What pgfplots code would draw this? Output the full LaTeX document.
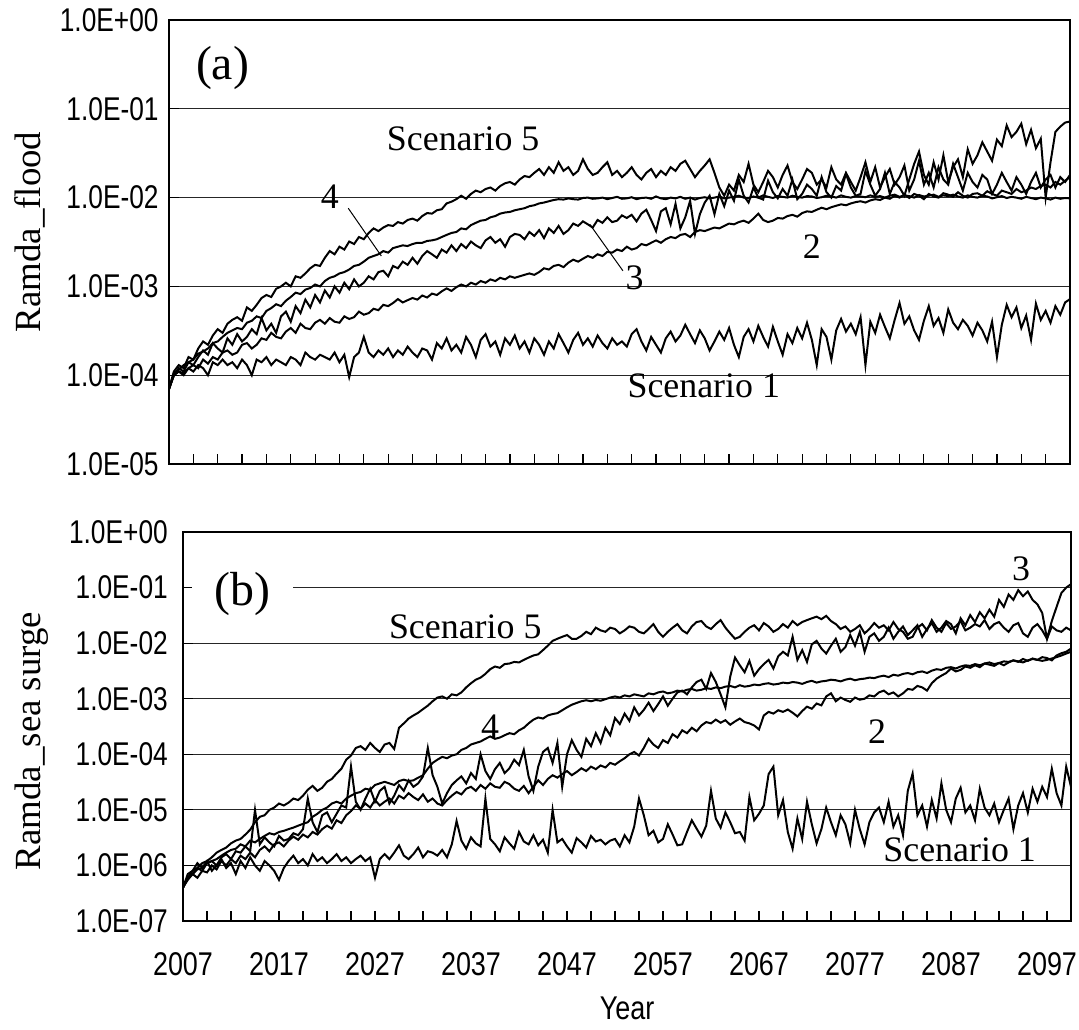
\documentclass[border=0pt]{standalone}
\usepackage{fontspec}
\setmainfont{Liberation Serif}
\setsansfont{Liberation Sans}
\usepackage{pgfplots}
\usepackage{pgfplotstable}
\pgfplotsset{compat=1.18}

\pgfplotstableread{
t s1 s2 s3 s4 s5
2007.0 0.7e-4 7.0e-5 7.0e-5 7.0e-5 7.0e-5
2007.5 1.0e-4 1.0e-4 1.0e-4 1.05e-4 1.1e-4
2008.0 1.1e-4 1.1e-4 1.2e-4 1.15e-4 1.3e-4
2008.5 1.0e-4 1.05e-4 1.1e-4 1.3e-4 1.2e-4
2009.0 1.2e-4 1.2e-4 1.4e-4 1.4e-4 1.6e-4
2009.5 1.1e-4 1.3e-4 1.3e-4 1.5e-4 1.5e-4
2010.0 1.3e-4 1.2e-4 1.6e-4 1.75e-4 2.0e-4
2010.5 1.2e-4 1.5e-4 1.9e-4 1.85e-4 2.4e-4
2011.0 1.0e-4 1.35e-4 1.7e-4 2.0e-4 2.2e-4
2011.5 1.4e-4 1.6e-4 2.3e-4 2.3e-4 2.8e-4
2012.0 1.3e-4 1.5e-4 2.0e-4 2.4e-4 3.3e-4
2012.5 1.5e-4 1.8e-4 1.8e-4 2.7e-4 3.0e-4
2013.0 1.3e-4 1.9e-4 2.6e-4 3.0e-4 3.8e-4
2013.5 1.4e-4 1.7e-4 2.2e-4 3.2e-4 4.2e-4
2014.0 1.2e-4 1.8e-4 2.9e-4 3.4e-4 4.5e-4
2014.5 1.5e-4 2.2e-4 2.4e-4 3.3e-4 4.1e-4
2015.0 1.3e-4 2.3e-4 2.7e-4 3.9e-4 5.8e-4
2015.5 1.0e-4 2.0e-4 3.3e-4 4.1e-4 5.3e-4
2016.0 1.5e-4 2.2e-4 2.9e-4 4.6e-4 6.2e-4
2016.5 1.4e-4 2.6e-4 4.4e-4 4.4e-4 7.4e-4
2017.0 1.6e-4 2.5e-4 3.2e-4 5.3e-4 8.0e-4
2017.5 1.3e-4 3.0e-4 3.8e-4 5.7e-4 7.6e-4
2018.0 1.5e-4 2.7e-4 3.0e-4 6.3e-4 9.4e-4
2018.5 1.4e-4 2.6e-4 4.6e-4 6.0e-4 1.0e-3
2019.0 1.3e-4 3.1e-4 5.2e-4 6.9e-4 1.1e-3
2019.5 1.6e-4 3.4e-4 4.0e-4 7.6e-4 1.0e-3
2020.0 1.5e-4 3.0e-4 6.0e-4 8.5e-4 1.3e-3
2020.5 1.3e-4 3.8e-4 5.0e-4 8.2e-4 1.25e-3
2021.0 1.8e-4 3.4e-4 7.1e-4 9.2e-4 1.4e-3
2021.5 1.6e-4 3.3e-4 5.8e-4 9.6e-4 1.6e-3
2022.0 1.5e-4 3.9e-4 8.0e-4 1.05e-3 1.75e-3
2022.5 1.7e-4 4.2e-4 6.6e-4 1.0e-3 1.7e-3
2023.0 1.6e-4 3.8e-4 9.0e-4 1.15e-3 2.1e-3
2023.5 1.5e-4 4.4e-4 7.5e-4 1.25e-3 2.5e-3
2024.0 1.8e-4 4.0e-4 1.0e-3 1.3e-3 2.3e-3
2024.5 1.4e-4 3.9e-4 8.5e-4 1.4e-3 2.8e-3
2025.0 1.7e-4 4.6e-4 1.1e-3 1.45e-3 2.6e-3
2025.5 0.95e-4 4.3e-4 9.3e-4 1.55e-3 3.2e-3
2026.0 1.6e-4 4.5e-4 1.2e-3 1.7e-3 3.0e-3
2026.5 1.8e-4 5.2e-4 1.0e-3 1.75e-3 3.6e-3
2027.0 2.7e-4 4.8e-4 1.1e-3 1.9e-3 3.4e-3
2027.5 1.8e-4 5.0e-4 1.3e-3 2.1e-3 4.0e-3
2028.0 1.6e-4 5.6e-4 1.2e-3 2.2e-3 4.5e-3
2028.5 1.9e-4 5.4e-4 1.45e-3 2.3e-3 4.2e-3
2029.0 1.7e-4 6.2e-4 1.5e-3 2.5e-3 4.6e-3
2029.5 2.0e-4 6.0e-4 1.3e-3 2.4e-3 4.9e-3
2030.0 1.6e-4 6.5e-4 1.7e-3 2.7e-3 4.8e-3
2030.5 1.9e-4 7.2e-4 1.6e-3 2.8e-3 5.3e-3
2031.0 1.7e-4 6.6e-4 1.9e-3 2.9e-3 5.1e-3
2031.5 2.1e-4 7.0e-4 1.75e-3 2.85e-3 5.6e-3
2032.0 1.8e-4 7.4e-4 2.1e-3 3.0e-3 5.8e-3
2032.5 1.6e-4 7.1e-4 1.8e-3 3.1e-3 5.5e-3
2033.0 2.0e-4 7.9e-4 2.2e-3 3.1e-3 6.2e-3
2033.5 1.9e-4 7.5e-4 2.5e-3 3.25e-3 6.7e-3
2034.0 1.5e-4 8.3e-4 2.3e-3 3.3e-3 6.6e-3
2034.5 2.3e-4 8.0e-4 2.1e-3 3.4e-3 7.2e-3
2035.0 2.0e-4 8.8e-4 2.6e-3 3.6e-3 7.4e-3
2035.5 2.6e-4 9.5e-4 2.4e-3 3.8e-3 8.6e-3
2036.0 1.9e-4 8.9e-4 2.9e-3 4.0e-3 9.0e-3
2036.5 2.2e-4 9.8e-4 2.5e-3 4.1e-3 9.6e-3
2037.0 1.8e-4 1.05e-3 3.0e-3 4.5e-3 1.05e-2
2037.5 2.7e-4 1.0e-3 2.7e-3 4.4e-3 9.7e-3
2038.0 2.2e-4 1.1e-3 3.2e-3 4.9e-3 1.1e-2
2038.5 1.6e-4 1.05e-3 2.9e-3 5.2e-3 1.2e-2
2039.0 2.5e-4 1.15e-3 2.7e-3 5.5e-3 1.15e-2
2039.5 2.9e-4 1.1e-3 3.3e-3 5.6e-3 1.25e-2
2040.0 2.1e-4 1.2e-3 3.6e-3 6.0e-3 1.3e-2
2040.5 2.4e-4 1.15e-3 3.1e-3 6.2e-3 1.2e-2
2041.0 1.7e-4 1.25e-3 3.4e-3 6.6e-3 1.35e-2
2041.5 2.6e-4 1.2e-3 2.8e-3 6.8e-3 1.45e-2
2042.0 2.2e-4 1.3e-3 3.6e-3 6.9e-3 1.5e-2
2042.5 2.8e-4 1.25e-3 3.9e-3 7.2e-3 1.4e-2
2043.0 2.0e-4 1.3e-3 3.8e-3 7.4e-3 1.6e-2
2043.5 2.4e-4 1.35e-3 3.4e-3 7.6e-3 1.75e-2
2044.0 1.8e-4 1.4e-3 4.1e-3 8.0e-3 1.7e-2
2044.5 2.6e-4 1.35e-3 3.7e-3 8.2e-3 1.9e-2
2045.0 2.2e-4 1.45e-3 4.3e-3 8.6e-3 2.1e-2
2045.5 1.7e-4 1.6e-3 3.5e-3 8.8e-3 1.8e-2
2046.0 2.4e-4 1.55e-3 4.5e-3 9.1e-3 2.2e-2
2046.5 2.0e-4 1.7e-3 4.0e-3 9.4e-3 1.9e-2
2047.0 2.9e-4 1.75e-3 4.8e-3 9.6e-3 2.5e-2
2047.5 2.3e-4 1.65e-3 3.9e-3 9.5e-3 2.0e-2
2048.0 1.8e-4 1.85e-3 4.3e-3 9.8e-3 2.2e-2
2048.5 2.5e-4 2.0e-3 5.1e-3 9.6e-3 1.8e-2
2049.0 3.0e-4 1.9e-3 4.8e-3 9.5e-3 2.0e-2
2049.5 2.2e-4 2.05e-3 5.4e-3 9.9e-3 2.7e-2
2050.0 2.6e-4 2.2e-3 5.0e-3 1.0e-2 2.1e-2
2050.5 2.1e-4 2.1e-3 4.6e-3 9.7e-3 1.8e-2
2051.0 2.8e-4 2.3e-3 5.6e-3 9.8e-3 1.9e-2
2051.5 2.3e-4 2.2e-3 5.2e-3 1.0e-2 2.2e-2
2052.0 2.0e-4 2.45e-3 6.0e-3 9.6e-3 2.5e-2
2052.5 2.6e-4 2.4e-3 5.3e-3 9.9e-3 1.8e-2
2053.0 2.2e-4 2.6e-3 5.5e-3 1.02e-2 2.0e-2
2053.5 2.4e-4 2.5e-3 6.3e-3 9.7e-3 1.7e-2
2054.0 2.1e-4 2.8e-3 5.9e-3 9.8e-3 1.9e-2
2054.5 2.9e-4 2.6e-3 6.4e-3 1.01e-2 2.2e-2
2055.0 3.3e-4 2.7e-3 5.4e-3 9.6e-3 1.8e-2
2055.5 2.4e-4 3.0e-3 6.6e-3 9.9e-3 1.6e-2
2056.0 1.9e-4 2.9e-3 7.3e-3 1.0e-2 1.9e-2
2056.5 2.7e-4 3.1e-3 5.6e-3 9.7e-3 2.1e-2
2057.0 2.2e-4 3.3e-3 4.2e-3 1.03e-2 1.7e-2
2057.5 1.8e-4 3.1e-3 7.0e-3 9.8e-3 2.0e-2
2058.0 2.6e-4 3.4e-3 7.6e-3 9.6e-3 1.8e-2
2058.5 3.1e-4 3.6e-3 5.0e-3 1.0e-2 2.2e-2
2059.0 2.4e-4 3.5e-3 8.5e-3 9.8e-3 2.0e-2
2059.5 2.8e-4 3.8e-3 4.5e-3 1.02e-2 2.4e-2
2060.0 3.7e-4 3.9e-3 6.0e-3 9.7e-3 2.6e-2
2060.5 2.9e-4 3.6e-3 9.2e-3 1.0e-2 2.1e-2
2061.0 2.3e-4 4.1e-3 3.9e-3 9.5e-3 1.7e-2
2061.5 3.2e-4 4.3e-3 6.5e-3 9.9e-3 2.0e-2
2062.0 2.6e-4 4.2e-3 8.8e-3 1.01e-2 2.3e-2
2062.5 1.9e-4 4.4e-3 1.05e-2 9.8e-3 2.7e-2
2063.0 2.4e-4 4.6e-3 6.5e-3 1.0e-2 1.9e-2
2063.5 3.1e-4 4.5e-3 1.1e-2 1.03e-2 1.3e-2
2064.0 2.5e-4 4.8e-3 8.0e-3 9.8e-3 1.05e-2
2064.5 3.4e-4 5.1e-3 1.2e-2 1.0e-2 1.4e-2
2065.0 2.2e-4 5.0e-3 9.2e-3 1.02e-2 1.2e-2
2065.5 1.6e-4 5.3e-3 1.6e-2 1.05e-2 1.8e-2
2066.0 2.7e-4 5.5e-3 1.05e-2 1.0e-2 1.5e-2
2066.5 3.3e-4 5.2e-3 8.8e-3 9.9e-3 2.4e-2
2067.0 2.4e-4 5.8e-3 1.3e-2 1.03e-2 1.4e-2
2067.5 3.6e-4 6.6e-3 1.0e-2 1.0e-2 1.15e-2
2068.0 2.7e-4 5.6e-3 9.5e-3 1.06e-2 1.5e-2
2068.5 2.1e-4 5.3e-3 1.55e-2 1.02e-2 2.0e-2
2069.0 3.5e-4 5.5e-3 1.15e-2 9.9e-3 1.7e-2
2069.5 2.4e-4 5.9e-3 9.8e-3 1.04e-2 1.3e-2
2070.0 1.7e-4 5.8e-3 1.25e-2 1.02e-2 1.8e-2
2070.5 2.9e-4 6.2e-3 1.05e-2 1.0e-2 2.3e-2
2071.0 2.3e-4 6.4e-3 1.6e-2 1.05e-2 1.5e-2
2071.5 3.4e-4 6.1e-3 9.6e-3 1.02e-2 1.25e-2
2072.0 2.6e-4 6.7e-3 1.1e-2 1.0e-2 1.6e-2
2072.5 3.9e-4 7.0e-3 1.4e-2 1.04e-2 2.1e-2
2073.0 2.5e-4 6.9e-3 1.25e-2 1.03e-2 1.9e-2
2073.5 1.3e-4 7.3e-3 1.05e-2 9.9e-3 1.4e-2
2074.0 3.3e-4 7.7e-3 1.7e-2 1.01e-2 1.6e-2
2074.5 2.7e-4 7.4e-3 1.15e-2 1.05e-2 1.3e-2
2075.0 1.5e-4 7.8e-3 1.0e-2 1.03e-2 2.2e-2
2075.5 3.2e-4 8.1e-3 1.35e-2 1.0e-2 1.6e-2
2076.0 4.3e-4 8.4e-3 1.2e-2 1.06e-2 1.4e-2
2076.5 3.1e-4 8.2e-3 1.85e-2 1.02e-2 1.9e-2
2077.0 3.8e-4 8.6e-3 1.3e-2 1.0e-2 1.5e-2
2077.5 2.9e-4 8.9e-3 1.05e-2 1.04e-2 1.2e-2
2078.0 4.5e-4 9.1e-3 1.1e-2 1.03e-2 1.7e-2
2078.5 1.3e-4 8.8e-3 2.0e-2 1.01e-2 2.5e-2
2079.0 4.0e-4 9.3e-3 1.4e-2 1.06e-2 1.5e-2
2079.5 3.0e-4 9.6e-3 1.05e-2 1.02e-2 2.2e-2
2080.0 4.8e-4 9.4e-3 1.25e-2 1.04e-2 1.3e-2
2080.5 3.5e-4 1.0e-2 1.9e-2 1.0e-2 1.7e-2
2081.0 2.6e-4 9.7e-3 1.1e-2 1.05e-2 2.1e-2
2081.5 4.2e-4 1.05e-2 1.5e-2 1.08e-2 1.4e-2
2082.0 6.5e-4 1.0e-2 1.3e-2 1.02e-2 1.7e-2
2082.5 3.8e-4 1.08e-2 1.05e-2 1.06e-2 2.3e-2
2083.0 4.6e-4 9.9e-3 1.6e-2 1.04e-2 1.2e-2
2083.5 3.2e-4 1.1e-2 2.4e-2 1.0e-2 1.6e-2
2084.0 2.5e-4 1.05e-2 3.3e-2 1.07e-2 2.6e-2
2084.5 4.1e-4 9.6e-3 1.8e-2 1.03e-2 1.4e-2
2085.0 6.0e-4 1.1e-2 1.4e-2 1.05e-2 1.9e-2
2085.5 3.6e-4 1.03e-2 2.5e-2 1.08e-2 1.3e-2
2086.0 4.4e-4 1.0e-2 1.6e-2 1.02e-2 2.2e-2
2086.5 3.0e-4 1.12e-2 3.0e-2 1.06e-2 1.6e-2
2087.0 5.5e-4 1.08e-2 1.5e-2 1.04e-2 1.4e-2
2087.5 3.9e-4 1.02e-2 2.2e-2 1.08e-2 2.4e-2
2088.0 3.3e-4 1.15e-2 2.7e-2 1.03e-2 1.7e-2
2088.5 4.2e-4 1.05e-2 1.7e-2 1.0e-2 1.2e-2
2089.0 3.6e-4 1.0e-2 3.5e-2 1.06e-2 1.9e-2
2089.5 2.8e-4 1.1e-2 2.4e-2 1.02e-2 1.5e-2
2090.0 3.9e-4 1.12e-2 3.0e-2 1.0e-2 1.3e-2
2090.5 3.2e-4 1.05e-2 4.2e-2 1.05e-2 1.8e-2
2091.0 2.4e-4 1.18e-2 3.3e-2 1.03e-2 1.6e-2
2091.5 4.0e-4 1.1e-2 2.6e-2 9.8e-3 1.1e-2
2092.0 1.6e-4 1.05e-2 4.5e-2 1.01e-2 1.4e-2
2092.5 3.7e-4 1.2e-2 3.8e-2 1.04e-2 1.9e-2
2093.0 6.2e-4 1.15e-2 6.5e-2 9.9e-3 1.5e-2
2093.5 4.5e-4 1.1e-2 4.8e-2 1.02e-2 1.2e-2
2094.0 5.8e-4 1.25e-2 5.5e-2 1.0e-2 1.7e-2
2094.5 3.4e-4 1.15e-2 6.8e-2 9.7e-3 1.4e-2
2095.0 4.7e-4 1.2e-2 4.0e-2 1.02e-2 1.1e-2
2095.5 2.5e-4 1.3e-2 5.8e-2 9.9e-3 1.5e-2
2096.0 6.4e-4 1.25e-2 3.6e-2 9.6e-3 1.9e-2
2096.5 4.2e-4 1.35e-2 4.6e-2 1.0e-2 1.3e-2
2097.0 5.3e-4 1.4e-2 1.0e-2 9.8e-3 1.6e-2
2097.5 3.9e-4 1.3e-2 2.5e-2 9.5e-3 1.8e-2
2098.0 6.0e-4 1.5e-2 5.5e-2 1.0e-2 1.3e-2
2098.5 4.8e-4 1.4e-2 6.3e-2 9.7e-3 1.7e-2
2099.0 6.6e-4 1.55e-2 7.0e-2 9.9e-3 1.5e-2
2099.5 7.2e-4 1.7e-2 7.2e-2 9.8e-3 1.8e-2
}\flood

\pgfplotstableread{
t s1 s2 s3 s4 s5
2007.0 4.0e-7 4.0e-7 4.0e-7 4.0e-7 4.0e-7
2007.5 6.0e-7 5.5e-7 6.0e-7 6.0e-7 7.0e-7
2008.0 8.0e-7 7.0e-7 7.0e-7 7.0e-7 8.0e-7
2008.5 1.1e-6 6.0e-7 9.0e-7 8.5e-7 9.0e-7
2009.0 9.0e-7 8.0e-7 8.0e-7 9.0e-7 1.1e-6
2009.5 1.2e-6 7.5e-7 1.1e-6 1.1e-6 1.2e-6
2010.0 8.0e-7 1.0e-6 1.2e-6 1.2e-6 1.4e-6
2010.5 1.0e-6 8.5e-7 1.0e-6 1.3e-6 1.7e-6
2011.0 1.3e-6 1.2e-6 1.4e-6 1.5e-6 1.9e-6
2011.5 9.0e-7 1.0e-6 1.6e-6 1.7e-6 2.1e-6
2012.0 1.1e-6 1.3e-6 1.3e-6 1.9e-6 2.5e-6
2012.5 7.0e-7 1.1e-6 1.8e-6 2.0e-6 2.8e-6
2013.0 1.2e-6 1.5e-6 1.7e-6 2.4e-6 3.0e-6
2013.5 9.0e-7 1.3e-6 2.2e-6 2.2e-6 3.6e-6
2014.0 1.4e-6 1.7e-6 1.8e-6 2.8e-6 4.4e-6
2014.5 1.0e-6 1.4e-6 1.0e-5 2.6e-6 6.0e-6
2015.0 8.0e-7 1.9e-6 2.4e-6 3.0e-6 7.5e-6
2015.5 1.2e-6 2.2e-6 3.2e-6 3.4e-6 8.0e-6
2016.0 1.0e-6 1.8e-6 2.6e-6 3.8e-6 1.0e-5
2016.5 8.0e-7 2.4e-6 2.2e-6 3.6e-6 1.1e-5
2017.0 5.5e-7 2.6e-6 3.4e-6 4.0e-6 1.3e-5
2017.5 9.0e-7 2.2e-6 2.8e-6 4.2e-6 1.2e-5
2018.0 1.2e-6 2.8e-6 3.0e-6 4.5e-6 1.35e-5
2018.5 1.5e-6 3.3e-6 3.8e-6 4.8e-6 1.6e-5
2019.0 1.1e-6 2.9e-6 3.5e-6 5.2e-6 1.5e-5
2019.5 1.3e-6 3.6e-6 4.5e-6 5.6e-6 1.8e-5
2020.0 1.0e-6 3.2e-6 1.6e-5 6.0e-6 2.3e-5
2020.5 1.6e-6 4.0e-6 6.0e-6 7.5e-6 2.7e-5
2021.0 1.2e-6 3.6e-6 4.0e-6 8.5e-6 2.2e-5
2021.5 1.4e-6 4.5e-6 8.0e-6 1.0e-5 2.5e-5
2022.0 1.1e-6 5.2e-6 9.0e-6 1.1e-5 3.2e-5
2022.5 1.3e-6 4.6e-6 6.0e-6 1.3e-5 3.6e-5
2023.0 1.6e-6 6.5e-6 8.5e-6 1.4e-5 4.5e-5
2023.5 1.2e-6 5.8e-6 1.2e-5 1.3e-5 5.5e-5
2024.0 1.4e-6 8.0e-6 1.1e-5 1.6e-5 8.0e-5
2024.5 1.1e-6 9.5e-6 6.0e-5 1.8e-5 9.5e-5
2025.0 1.3e-6 1.2e-5 1.4e-5 2.0e-5 1.3e-4
2025.5 1.5e-6 1.05e-5 1.0e-5 2.1e-5 1.4e-4
2026.0 1.2e-6 1.3e-5 1.6e-5 2.4e-5 1.2e-4
2026.5 1.4e-6 1.1e-5 2.4e-5 2.3e-5 1.6e-4
2027.0 6.0e-7 1.5e-5 1.4e-5 2.8e-5 1.3e-4
2027.5 1.3e-6 1.2e-5 2.2e-5 3.0e-5 1.1e-4
2028.0 1.6e-6 1.4e-5 2.6e-5 3.2e-5 1.5e-4
2028.5 1.3e-6 1.6e-5 1.3e-5 3.0e-5 1.6e-4
2029.0 1.7e-6 1.3e-5 1.8e-5 2.8e-5 1.25e-4
2029.5 2.3e-6 1.8e-5 2.8e-5 3.3e-5 3.0e-4
2030.0 1.5e-6 1.6e-5 2.2e-5 3.5e-5 3.6e-4
2030.5 1.3e-6 2.0e-5 3.4e-5 3.3e-5 4.4e-4
2031.0 1.6e-6 1.7e-5 2.6e-5 3.4e-5 5.0e-4
2031.5 2.1e-6 1.5e-5 3.0e-5 3.8e-5 5.6e-4
2032.0 1.4e-6 1.9e-5 4.0e-5 4.2e-5 6.5e-4
2032.5 1.8e-6 1.4e-5 1.3e-4 5.5e-5 7.5e-4
2033.0 1.7e-6 1.6e-5 4.2e-5 7.0e-5 9.0e-4
2033.5 1.5e-6 1.3e-5 2.6e-5 8.0e-5 1.05e-3
2034.0 1.9e-6 1.2e-5 1.3e-5 9.0e-5 1.1e-3
2034.5 1.4e-6 1.5e-5 2.0e-5 8.5e-5 1.0e-3
2035.0 2.4e-6 1.8e-5 2.8e-5 9.5e-5 1.2e-3
2035.5 6.3e-6 2.1e-5 3.4e-5 1.0e-4 1.15e-3
2036.0 2.8e-6 1.9e-5 4.0e-5 1.2e-4 1.3e-3
2036.5 2.0e-6 2.4e-5 3.0e-5 1.3e-4 1.6e-3
2037.0 3.2e-6 2.6e-5 4.6e-5 1.5e-4 1.9e-3
2037.5 2.5e-6 2.2e-5 3.6e-5 1.6e-4 2.2e-3
2038.0 2.2e-6 2.8e-5 1.0e-4 1.7e-4 2.4e-3
2038.5 1.6e-5 2.4e-5 5.0e-5 1.9e-4 2.8e-3
2039.0 3.0e-6 3.0e-5 3.6e-5 2.1e-4 3.4e-3
2039.5 2.4e-6 2.6e-5 5.4e-5 1.9e-4 3.8e-3
2040.0 1.8e-6 2.5e-5 7.0e-5 2.0e-4 3.6e-3
2040.5 3.2e-6 3.2e-5 4.6e-5 2.2e-4 4.2e-3
2041.0 2.5e-6 2.9e-5 5.6e-5 2.4e-4 4.3e-3
2041.5 2.0e-6 2.4e-5 8.0e-5 2.3e-4 4.6e-3
2042.0 4.0e-6 2.2e-5 6.4e-5 2.7e-4 4.5e-3
2042.5 2.7e-6 2.7e-5 1.2e-4 3.0e-4 5.0e-3
2043.0 2.4e-6 2.0e-5 4.0e-5 3.6e-4 5.5e-3
2043.5 3.5e-6 2.6e-5 2.2e-5 4.2e-4 6.0e-3
2044.0 2.3e-6 3.4e-5 6.0e-5 4.6e-4 6.3e-3
2044.5 2.9e-6 2.8e-5 1.1e-4 4.4e-4 7.5e-3
2045.0 1.7e-6 3.6e-5 1.3e-4 5.0e-4 9.0e-3
2045.5 1.0e-5 4.2e-5 7.0e-5 5.3e-4 1.1e-2
2046.0 2.6e-6 3.8e-5 1.6e-4 5.5e-4 1.2e-2
2046.5 3.0e-6 4.4e-5 2.6e-5 6.2e-4 1.3e-2
2047.0 2.2e-6 5.0e-5 1.0e-4 7.0e-4 1.4e-2
2047.5 1.7e-6 4.2e-5 1.8e-4 7.8e-4 1.2e-2
2048.0 3.1e-6 4.8e-5 1.2e-4 8.4e-4 1.2e-2
2048.5 2.6e-6 5.6e-5 9.0e-5 9.0e-4 1.35e-2
2049.0 2.1e-6 5.0e-5 1.9e-4 9.4e-4 1.6e-2
2049.5 3.4e-6 6.0e-5 1.4e-4 9.0e-4 1.45e-2
2050.0 2.7e-6 5.4e-5 2.4e-4 9.5e-4 1.9e-2
2050.5 2.9e-6 6.3e-5 1.6e-4 9.2e-4 1.7e-2
2051.0 2.4e-6 5.8e-5 3.0e-4 9.8e-4 1.6e-2
2051.5 2.8e-6 7.0e-5 2.2e-4 1.05e-3 1.9e-2
2052.0 3.0e-6 6.5e-5 4.5e-4 1.1e-3 1.8e-2
2052.5 2.2e-6 7.5e-5 3.5e-4 1.05e-3 1.5e-2
2053.0 3.5e-6 8.5e-5 5.4e-4 1.15e-3 1.7e-2
2053.5 2.6e-6 1.0e-4 4.0e-4 1.1e-3 2.0e-2
2054.0 5.0e-6 1.1e-4 7.0e-4 1.2e-3 1.9e-2
2054.5 1.6e-5 9.5e-5 5.0e-4 1.15e-3 1.6e-2
2055.0 8.0e-6 1.3e-4 6.3e-4 1.1e-3 1.5e-2
2055.5 3.5e-6 1.9e-4 8.5e-4 1.25e-3 1.8e-2
2056.0 4.2e-6 1.5e-4 6.0e-4 1.2e-3 2.2e-2
2056.5 2.6e-6 1.3e-4 8.0e-4 1.3e-3 1.6e-2
2057.0 3.0e-6 1.8e-4 1.1e-3 1.35e-3 1.3e-2
2057.5 5.5e-6 1.6e-4 7.5e-4 1.25e-3 1.6e-2
2058.0 3.6e-6 2.3e-4 1.0e-3 1.3e-3 1.9e-2
2058.5 2.3e-6 2.0e-4 1.3e-3 1.4e-3 2.2e-2
2059.0 2.4e-6 2.7e-4 1.4e-3 1.35e-3 1.7e-2
2059.5 4.0e-6 2.4e-4 1.2e-3 1.45e-3 1.5e-2
2060.0 6.5e-6 3.0e-4 1.6e-3 1.5e-3 2.0e-2
2060.5 4.6e-6 2.6e-4 2.0e-3 1.4e-3 2.4e-2
2061.0 3.3e-6 3.3e-4 2.2e-3 1.45e-3 2.5e-2
2061.5 5.2e-6 3.8e-4 1.5e-3 1.55e-3 2.0e-2
2062.0 2.2e-5 3.6e-4 2.9e-3 1.5e-3 1.8e-2
2062.5 7.0e-6 4.2e-4 2.0e-3 1.6e-3 2.2e-2
2063.0 4.8e-6 3.7e-4 1.2e-3 1.55e-3 2.6e-2
2063.5 9.0e-6 4.1e-4 7.0e-4 1.65e-3 1.9e-2
2064.0 6.0e-6 3.4e-4 2.5e-3 1.7e-3 1.5e-2
2064.5 3.8e-6 3.9e-4 5.5e-3 1.6e-3 1.2e-2
2065.0 4.0e-6 4.4e-4 4.0e-3 1.75e-3 1.3e-2
2065.5 2.8e-6 3.8e-4 3.0e-3 1.65e-3 1.6e-2
2066.0 1.7e-5 3.6e-4 4.8e-3 1.7e-3 1.9e-2
2066.5 6.5e-6 3.3e-4 2.6e-3 1.8e-3 2.1e-2
2067.0 8.5e-6 2.8e-4 3.4e-3 1.75e-3 1.7e-2
2067.5 1.2e-5 5.0e-4 4.2e-3 1.85e-3 2.3e-2
2068.0 4.4e-5 5.8e-4 5.0e-3 1.9e-3 2.0e-2
2068.5 6.0e-5 5.4e-4 3.5e-3 1.8e-3 1.6e-2
2069.0 8.0e-6 6.2e-4 5.8e-3 1.85e-3 1.8e-2
2069.5 1.5e-5 5.8e-4 7.0e-3 1.95e-3 2.2e-2
2070.0 4.0e-6 6.4e-4 6.0e-3 1.9e-3 1.9e-2
2070.5 2.0e-6 5.6e-4 1.3e-2 2.0e-3 2.5e-2
2071.0 7.0e-6 4.8e-4 5.0e-3 1.95e-3 2.1e-2
2071.5 3.0e-6 6.0e-4 7.5e-3 1.85e-3 2.4e-2
2072.0 1.4e-5 7.2e-4 4.6e-3 2.0e-3 2.6e-2
2072.5 5.5e-6 6.6e-4 9.5e-3 2.1e-3 2.8e-2
2073.0 2.5e-6 8.2e-4 1.1e-2 1.95e-3 3.0e-2
2073.5 4.5e-6 7.6e-4 8.0e-3 2.05e-3 2.7e-2
2074.0 1.1e-5 1.1e-3 6.5e-3 2.1e-3 3.1e-2
2074.5 6.0e-6 1.25e-3 9.0e-3 2.2e-3 2.5e-2
2075.0 3.5e-6 9.0e-4 1.2e-2 2.15e-3 2.2e-2
2075.5 8.0e-6 1.05e-3 7.0e-3 2.05e-3 1.8e-2
2076.0 5.5e-6 9.5e-4 8.5e-3 2.2e-3 2.0e-2
2076.5 2.5e-6 8.8e-4 1.4e-2 2.3e-3 1.6e-2
2077.0 1.0e-5 1.05e-3 9.0e-3 2.15e-3 1.8e-2
2077.5 4.5e-6 9.6e-4 1.6e-2 2.25e-3 2.1e-2
2078.0 2.4e-6 1.0e-3 7.0e-3 2.3e-3 1.5e-2
2078.5 6.0e-6 1.15e-3 1.3e-2 2.4e-3 1.8e-2
2079.0 9.0e-6 1.1e-3 1.5e-2 2.35e-3 2.3e-2
2079.5 1.1e-5 1.3e-3 1.1e-2 2.5e-3 1.9e-2
2080.0 6.0e-6 1.4e-3 1.3e-2 2.6e-3 2.1e-2
2080.5 1.4e-5 1.2e-3 1.9e-2 2.45e-3 1.7e-2
2081.0 5.0e-6 1.3e-3 1.2e-2 2.7e-3 2.4e-2
2081.5 8.0e-6 1.1e-3 1.6e-2 2.6e-3 1.8e-2
2082.0 3.5e-6 1.25e-3 2.0e-2 2.8e-3 1.6e-2
2082.5 2.2e-5 1.5e-3 1.4e-2 2.9e-3 1.2e-2
2083.0 4.5e-5 1.45e-3 1.7e-2 2.75e-3 1.3e-2
2083.5 8.0e-6 1.7e-3 2.1e-2 3.0e-3 1.9e-2
2084.0 1.2e-5 1.6e-3 1.3e-2 3.1e-3 2.2e-2
2084.5 5.0e-6 1.4e-3 1.8e-2 2.9e-3 1.7e-2
2085.0 1.5e-5 1.9e-3 2.3e-2 3.2e-3 2.6e-2
2085.5 7.0e-6 2.3e-3 1.6e-2 3.4e-3 1.9e-2
2086.0 3.0e-5 2.6e-3 1.9e-2 3.3e-3 1.6e-2
2086.5 1.0e-5 2.9e-3 2.5e-2 3.6e-3 2.3e-2
2087.0 6.0e-6 3.5e-3 2.2e-2 3.7e-3 1.8e-2
2087.5 1.6e-5 3.1e-3 1.5e-2 3.5e-3 2.0e-2
2088.0 2.5e-5 3.3e-3 2.8e-2 3.8e-3 2.5e-2
2088.5 9.0e-6 3.8e-3 2.1e-2 4.0e-3 1.7e-2
2089.0 1.2e-5 3.6e-3 3.2e-2 3.9e-3 1.9e-2
2089.5 6.5e-6 4.0e-3 2.4e-2 4.2e-3 2.2e-2
2090.0 2.4e-5 3.7e-3 3.6e-2 4.0e-3 2.0e-2
2090.5 1.1e-5 4.3e-3 2.8e-2 4.3e-3 2.6e-2
2091.0 8.0e-6 4.1e-3 4.0e-2 4.5e-3 1.8e-2
2091.5 1.3e-5 3.9e-3 3.0e-2 4.2e-3 2.2e-2
2092.0 6.0e-6 4.4e-3 6.0e-2 4.4e-3 2.4e-2
2092.5 1.0e-5 4.0e-3 4.5e-2 4.7e-3 1.9e-2
2093.0 1.6e-5 4.5e-3 7.5e-2 4.6e-3 1.6e-2
2093.5 4.5e-6 4.9e-3 6.0e-2 4.9e-3 2.1e-2
2094.0 1.2e-5 4.6e-3 9.0e-2 4.7e-3 2.3e-2
2094.5 2.0e-5 5.2e-3 7.0e-2 4.5e-3 1.5e-2
2095.0 9.0e-6 4.8e-3 8.5e-2 4.9e-3 1.3e-2
2095.5 2.4e-5 5.3e-3 6.0e-2 5.2e-3 1.9e-2
2096.0 1.4e-5 5.0e-3 5.0e-2 5.0e-3 2.2e-2
2096.5 2.6e-5 5.6e-3 3.5e-2 4.8e-3 1.7e-2
2097.0 1.7e-5 5.4e-3 1.2e-2 5.0e-3 1.2e-2
2097.5 5.5e-5 4.9e-3 2.5e-2 5.3e-3 2.0e-2
2098.0 2.0e-5 6.0e-3 4.5e-2 5.6e-3 1.7e-2
2098.5 1.2e-5 6.6e-3 8.0e-2 6.0e-3 1.6e-2
2099.0 6.0e-5 7.0e-3 1.0e-1 6.5e-3 1.9e-2
2099.5 2.6e-5 8.0e-3 1.15e-1 7.0e-3 1.7e-2
}\surge

\tikzset{series/.style={black, line width=1pt}}
\newcommand\ann{\fontsize{18}{18}\selectfont}

\begin{document}
\begin{tikzpicture}
\path[use as bounding box] (0bp,0bp) rectangle (539.5bp,-515bp);

% ---------- panel (a)
\begin{axis}[
  scale only axis,
  ymode=log,
  xmin=2007, xmax=2099.5,
  ymin=1e-5, ymax=1,
  at={(84.5bp,-232bp)}, anchor=south west,
  width=450.5bp, height=222bp,
  axis line style={black, line width=1pt},
  tick align=inside,
  xtick pos=bottom, ytick pos=left,
  xtick={2007,2017,...,2097},
  minor xtick={2009.5,2012,...,2099.5},
  major tick length=5bp, minor tick length=5bp,
  tick style={black, line width=0.6pt},
  yminorticks=false,
  ymajorgrids,
  major grid style={black!85, line width=0.5pt},
  tick label style={font=\sffamily\fontsize{16.5}{16.5}\selectfont},
  ytick={1e-5,1e-4,1e-3,1e-2,1e-1,1},
  yticklabels={1.0E-05,1.0E-04,1.0E-03,1.0E-02,1.0E-01,1.0E+00},
  yticklabel style={xscale=0.8, anchor=east, xshift=-3bp},
  xticklabels={,,},
]
\addplot[series] table[x=t,y=s1]{\flood};
\addplot[series] table[x=t,y=s2]{\flood};
\addplot[series] table[x=t,y=s3]{\flood};
\addplot[series] table[x=t,y=s4]{\flood};
\addplot[series] table[x=t,y=s5]{\flood};
\node[font=\fontsize{24}{24}\selectfont] at (axis cs:2012.5,0.29) {(a)};
\node[font=\ann] at (axis cs:2037.2,0.046) {Scenario 5};
\node[font=\ann] at (axis cs:2023.5,0.0102) {4};
\draw[black, line width=0.5pt] (axis cs:2025.4,7.6e-3) -- (axis cs:2028.8,2.2e-3);
\node[font=\ann] at (axis cs:2054.8,1.26e-3) {3};
\draw[black, line width=0.5pt] (axis cs:2050.2,5.0e-3) -- (axis cs:2053.6,1.5e-3);
\node[font=\ann] at (axis cs:2073.0,2.8e-3) {2};
\node[font=\ann] at (axis cs:2061.9,7.6e-5) {Scenario 1};
\end{axis}

% ---------- panel (b)
\begin{axis}[
  scale only axis,
  ymode=log,
  xmin=2007, xmax=2099.5,
  ymin=1e-7, ymax=1,
  at={(91.5bp,-460.5bp)}, anchor=south west,
  width=444bp, height=194.5bp,
  axis line style={black, line width=1pt},
  tick align=inside,
  xtick pos=bottom, ytick pos=left,
  xtick={2007,2017,...,2097},
  minor xtick={2009.5,2012,...,2099.5},
  major tick length=5bp, minor tick length=5bp,
  tick style={black, line width=0.6pt},
  yminorticks=false,
  ymajorgrids,
  major grid style={black!85, line width=0.5pt},
  tick label style={font=\sffamily\fontsize{16.5}{16.5}\selectfont},
  ytick={1e-7,1e-6,1e-5,1e-4,1e-3,1e-2,1e-1,1},
  yticklabels={1.0E-07,1.0E-06,1.0E-05,1.0E-04,1.0E-03,1.0E-02,1.0E-01,1.0E+00},
  yticklabel style={xscale=0.8, anchor=east, xshift=-6bp},
  xticklabels={2007,2017,2027,2037,2047,2057,2067,2077,2087,2097},
  xticklabel style={xscale=0.82, anchor=north, yshift=-12bp},
]
\addplot[series] table[x=t,y=s1]{\surge};
\addplot[series] table[x=t,y=s2]{\surge};
\addplot[series] table[x=t,y=s3]{\surge};
\addplot[series] table[x=t,y=s4]{\surge};
\addplot[series] table[x=t,y=s5]{\surge};
\node[fill=white, inner xsep=11.5bp, inner ysep=1bp, font=\fontsize{24}{24}\selectfont] at (axis cs:2013.2,0.078) {(b)};
\node[font=\ann] at (axis cs:2036.4,0.0195) {Scenario 5};
\node[font=\ann] at (axis cs:2039.0,3.2e-4) {4};
\node[font=\ann] at (axis cs:2094.3,0.22) {3};
\node[font=\ann] at (axis cs:2079.3,2.6e-4) {2};
\node[font=\ann] at (axis cs:2087.9,1.9e-6) {Scenario 1};
\end{axis}

\node[rotate=90, font=\fontsize{18.5}{18.5}\selectfont] at (15bp,-116bp) {Ramda\_flood};
\node[rotate=90, font=\fontsize{18.5}{18.5}\selectfont] at (16bp,-370.5bp) {Ramda\_sea surge};
\node[font=\sffamily\fontsize{16.5}{16.5}\selectfont, xscale=0.82] at (313.5bp,-504bp) {Year};
\end{tikzpicture}
\end{document}
